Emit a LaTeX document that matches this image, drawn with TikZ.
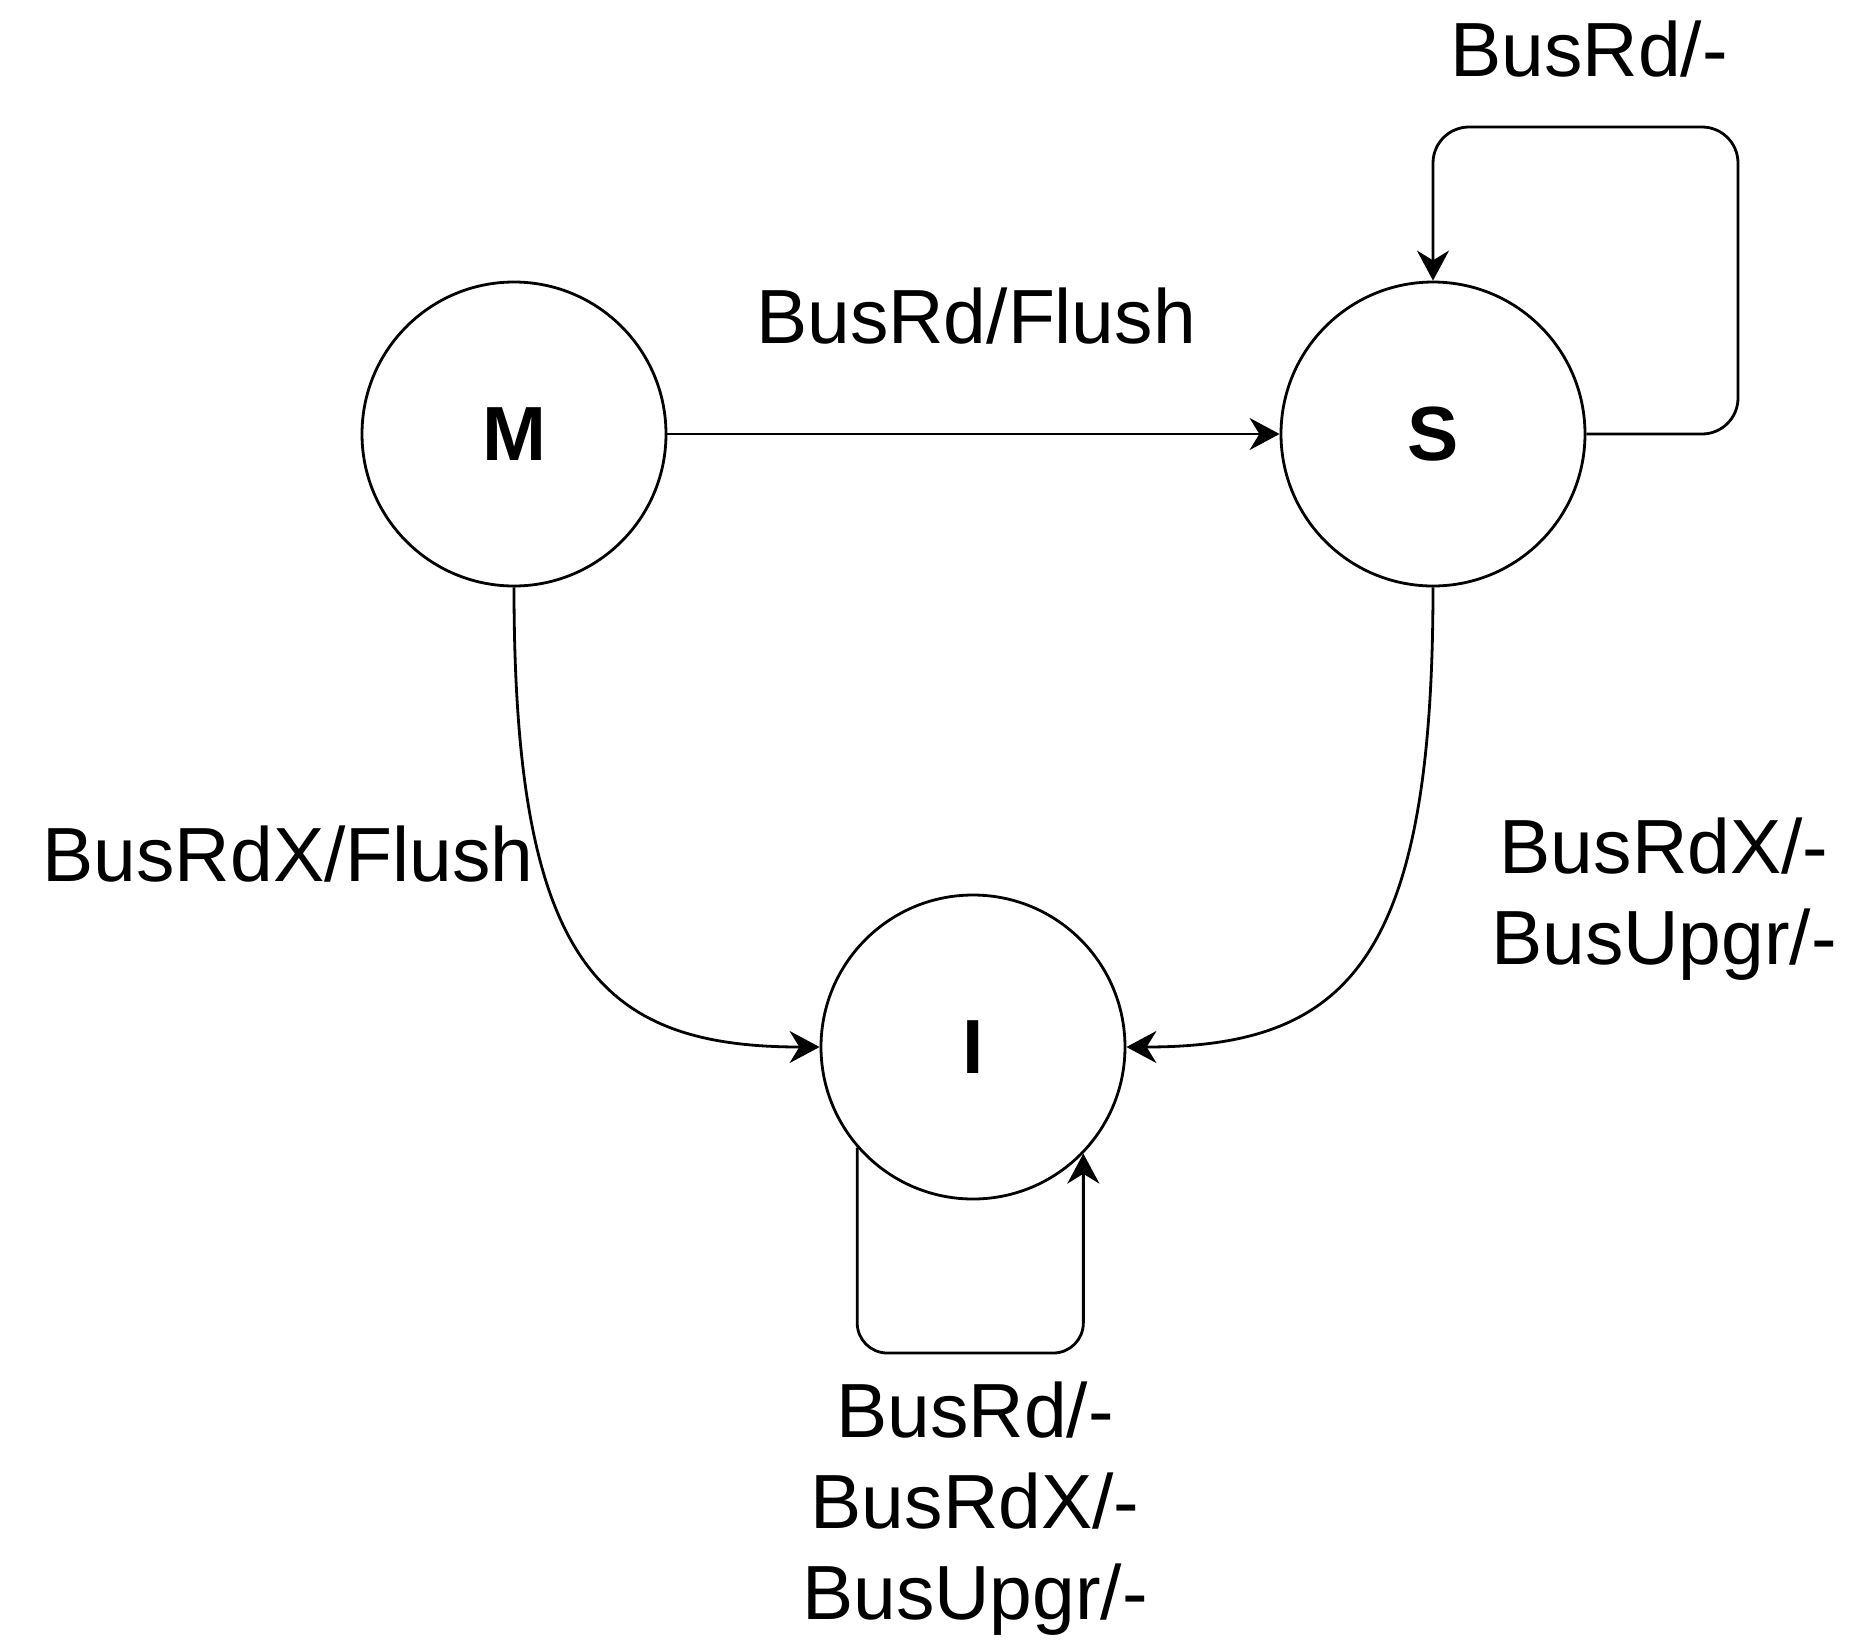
\documentclass[tikz,border=0pt]{standalone}
\usepackage{fontspec}
\setmainfont{Liberation Sans}
\usetikzlibrary{arrows.meta}
\begin{document}
\begin{tikzpicture}[x=0.5pt,y=-0.5pt,
  state/.style={draw,circle,line width=1.4pt,minimum size=152pt,inner sep=0pt,font=\fontsize{38.4}{45.5}\selectfont\bfseries},
  lbl/.style={inner sep=0pt,align=center,font=\fontsize{38.4}{45.5}\selectfont},
  edge/.style={line width=1.4pt,-{Stealth[length=15pt,width=16pt]}}]
 \useasboundingbox (0,0) rectangle (1865,1645);
 % states
 \node[state] (M) at (514,434) {M};
 \node[state] (S) at (1433,434) {S};
 \node[state] (I) at (973,1047) {I};
 % corners of the self loops
 \coordinate (sloop) at (1738,127);
 \coordinate (iloop) at (973,1353);
 % transitions
 \draw[edge] (M) -- (S);
 \draw[edge,rounded corners=18pt] (S.east) -| (sloop) -| (S.north);
 \draw[edge] (M.south) .. controls +(0,374) and +(-221,0) .. (I.west);
 \draw[edge] (S.south) .. controls +(0,374) and +(221,0) .. (I.east);
 \draw[edge,rounded corners=15pt] (I.-139) |- (iloop) -| (I.-44);
 % labels
 \node[lbl,anchor=base] (mslbl) at (976,343) {BusRd/Flush};
 \node[lbl,anchor=base] (sslbl) at (1589,76) {BusRd/-};
 \node[lbl,anchor=base] (milbl) at (288,881) {BusRdX/Flush};
 \node[lbl] (silbl) at (1664,899) {BusRdX/-\\BusUpgr/-};
 \node[lbl] (iilbl) at (975,1509) {BusRd/-\\BusRdX/-\\BusUpgr/-};
\end{tikzpicture}
\end{document}
